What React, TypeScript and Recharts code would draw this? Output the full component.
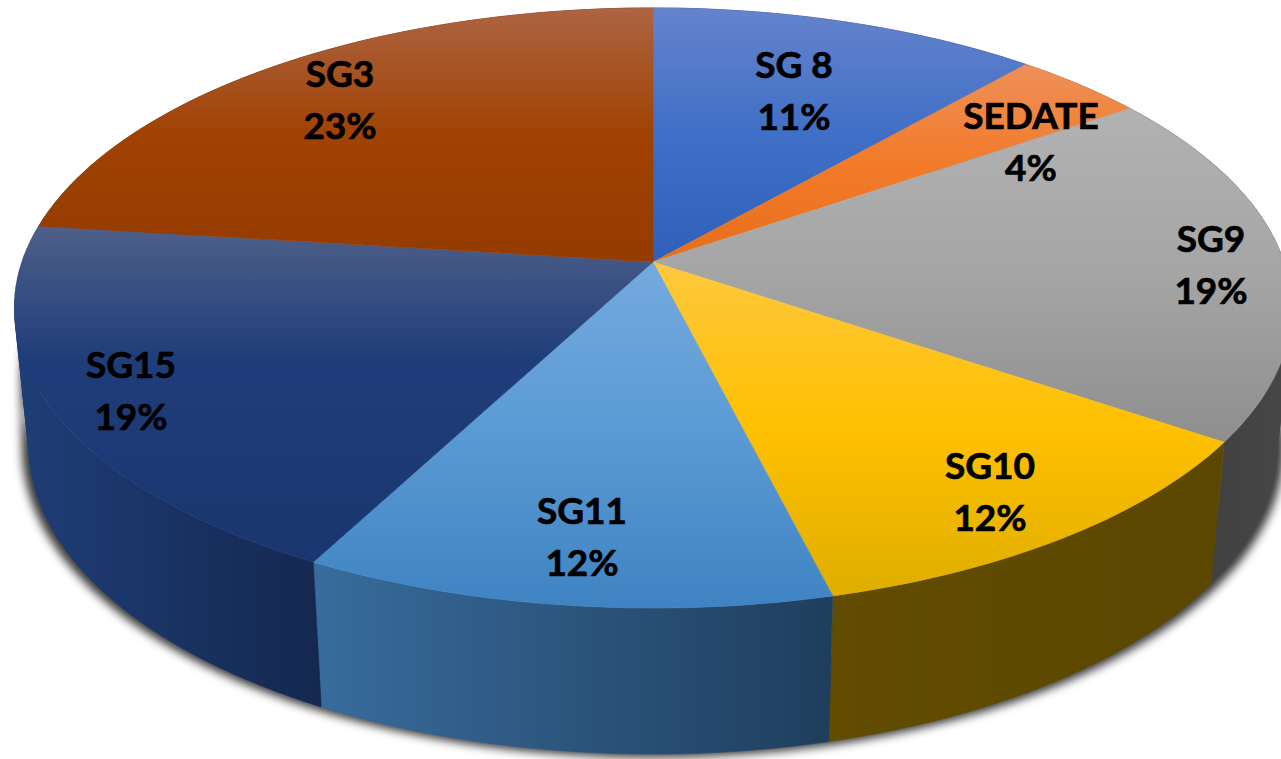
import { Pie, PieChart } from "recharts";

const names = ["SG 8", "SEDATE", "SG9", "SG10", "SG11", "SG15", "SG3"];
const shares = [11.45, 3.9, 19.15, 11.6, 11.6, 19.3, 23];

// vertical gradient of the top face, light to dark
const topStops = [
  ["#6583cc", "#3f6fc6", "#2f60b8"],
  ["#ee9058", "#f27b2a", "#e76e1a"],
  ["#b2b2b2", "#a5a5a5", "#8e8e8e"],
  ["#fdc83e", "#ffc000", "#dfae00"],
  ["#74aade", "#5a9ad4", "#3f83c3"],
  ["#4f6089", "#1f3d7a", "#1a3670"],
  ["#ad6442", "#a04203", "#943b00"],
];
const topMidOffsets = [50, 50, 50, 50, 50, 40, 50];
// horizontal gradient of the rim
const wallStops = [
  ["#24407a", "#1c3460"],
  ["#8a4a18", "#70390f"],
  ["#3a3a3a", "#474747"],
  ["#614c00", "#5b4700"],
  ["#386c9c", "#1f3e5d"],
  ["#1f3e77", "#14284f"],
  ["#5f2800", "#4c2000"],
];

// where each two line label sits on the page (centre of first line)
const labelAnchors = [
  [794, 65],
  [1031, 116],
  [1211, 239],
  [990, 466],
  [582, 511],
  [131, 365],
  [340, 74],
];

const WIDTH = 1281;
const HEIGHT = 759;
const APEX_X = 653;
const APEX_Y = 262;
const RADIUS = 300;
const LINE_GAP = 52;

// flat disc to tilted view
const project = (deg: number, r = 1) => {
  const a = (deg * Math.PI) / 180;
  const u = Math.cos(a) * r;
  const v = -Math.sin(a) * r;
  const den = 1 - 0.1533 * v;
  return [APEX_X + (631 * u) / den, APEX_Y + (293 * v) / den];
};

const lower = ([x, y]: number[], sx = 0.977, sy = 1.026, drop = 137) => [
  APEX_X + sx * (x - APEX_X),
  APEX_Y + drop + sy * (y - APEX_Y),
];

const arc = (start: number, end: number) => {
  const pts: number[][] = [];
  const steps = Math.max(8, Math.ceil(Math.abs(end - start) / 1.5));
  for (let i = 0; i <= steps; i++) pts.push(project(start + ((end - start) * i) / steps));
  return pts;
};

const toPath = (pts: number[][]) =>
  "M" + pts.map((p) => p[0].toFixed(1) + " " + p[1].toFixed(1)).join("L") + "Z";

// one quad per arc step, all wound the same way, so the silhouette of the sweep stays filled
const sweep = (upper: number[][], under: number[][]) => {
  let d = "";
  for (let i = 0; i < upper.length - 1; i++) {
    const quad = [upper[i], upper[i + 1], under[i + 1], under[i]];
    let area = 0;
    quad.forEach((p, k) => {
      const q = quad[(k + 1) % 4];
      area += p[0] * q[1] - q[0] * p[1];
    });
    d += toPath(area < 0 ? quad.reverse() : quad);
  }
  return d;
};

const TopFace = (props: any) => (
  <path
    d={toPath([[APEX_X, APEX_Y], ...arc(props.startAngle, props.endAngle)])}
    fill={props.fill}
    stroke={props.fill}
    strokeWidth={0.6}
  />
);

const Wall = (props: any) => {
  const top = arc(props.startAngle, props.endAngle);
  return <path d={sweep(top, top.map((p) => lower(p)))} fill={props.fill} stroke={props.fill} strokeWidth={0.6} />;
};

const Shadow = (props: any) => {
  const ring = arc(props.startAngle, props.endAngle);
  const upper = ring.map((p) => lower(p, 0.99, 1, 70));
  const under = ring.map((p) => lower(p, 0.988, 1.03, 139));
  return <path d={sweep(upper, under)} fill="#000" fillOpacity={0.78} filter="url(#rimShadow)" />;
};

const renderLabel = (props: any) => {
  const [x, y] = labelAnchors[props.index];
  return (
    <text
      key={names[props.index]}
      textAnchor="middle"
      fontFamily="Lato, 'Open Sans', sans-serif"
      fontWeight={700}
      fontSize={37}
      fill="#000"
      stroke="#000"
      strokeWidth={0.7}
    >
      <tspan x={x} y={y + 13}>
        {names[props.index]}
      </tspan>
      <tspan x={x} y={y + 13 + LINE_GAP}>
        {Math.round(shares[props.index])}%
      </tspan>
    </text>
  );
};

const topRows = names.map((name, i) => ({ name, value: shares[i], fill: `url(#top${i})` }));
const wallRows = names.map((name, i) => ({ name, value: shares[i], fill: `url(#wall${i})` }));
const shadowRows = [{ name: "shadow", value: 100 }];

export default function App() {
  const pieProps = {
    dataKey: "value",
    cx: APEX_X,
    cy: APEX_Y,
    outerRadius: RADIUS,
    startAngle: 90,
    endAngle: -270,
    paddingAngle: 0,
    isAnimationActive: false,
    labelLine: false,
  };

  return (
    <div style={{ position: "absolute", left: 0, top: 0, width: WIDTH, height: HEIGHT, overflow: "hidden", background: "#fff" }}>
      <PieChart width={WIDTH} height={HEIGHT} margin={{ top: 0, right: 0, bottom: 0, left: 0 }}>
        <defs>
          <filter id="rimShadow" x="-5%" y="-5%" width="110%" height="110%">
            <feGaussianBlur stdDeviation="5" />
          </filter>
          {topStops.map((stops, i) => (
            <linearGradient key={i} id={`top${i}`} x1="0" y1="0" x2="0" y2="1">
              <stop offset="0%" stopColor={stops[0]} />
              <stop offset={`${topMidOffsets[i]}%`} stopColor={stops[1]} />
              <stop offset="100%" stopColor={stops[2]} />
            </linearGradient>
          ))}
          {wallStops.map((stops, i) => (
            <linearGradient key={i} id={`wall${i}`} x1="0" y1="0" x2="1" y2="0">
              <stop offset="0%" stopColor={stops[0]} />
              <stop offset="100%" stopColor={stops[1]} />
            </linearGradient>
          ))}
        </defs>
        <Pie {...pieProps} data={shadowRows} shape={Shadow} />
        <Pie {...pieProps} data={wallRows} shape={Wall} />
        <Pie {...pieProps} data={topRows} shape={TopFace} label={renderLabel} />
      </PieChart>
    </div>
  );
}
